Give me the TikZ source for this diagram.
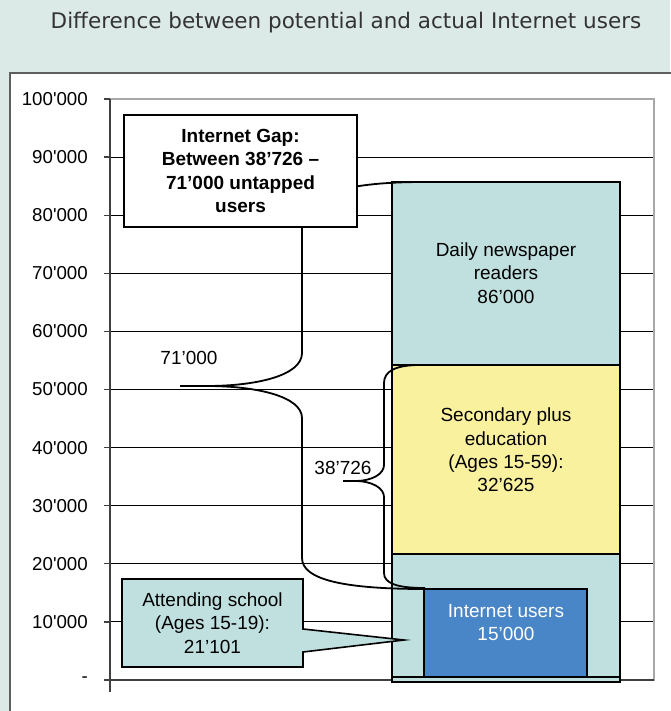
\documentclass[tikz,border=0pt]{standalone}
\usepackage{fontspec}
\setmainfont{Liberation Sans}[Ligatures=TeXOff]
\newfontfamily\titrefont{DejaVu Sans}
\usetikzlibrary{calc}
\definecolor{monFond}{RGB}{220,234,231}
\definecolor{monSarcelle}{RGB}{191,224,223}
\definecolor{monJaune}{RGB}{250,241,158}
\definecolor{monBleu}{RGB}{72,134,199}
\definecolor{monCadre}{RGB}{95,95,95}
\definecolor{monGris}{RGB}{168,168,168}
\definecolor{monTitre}{RGB}{51,51,51}
\tikzstyle{colonne} = [draw, line width=1.6pt, fill=monSarcelle]
\tikzstyle{colonne_2} = [draw, line width=1.6pt, fill=monJaune]
\tikzstyle{colonne_3} = [draw, line width=1.6pt, fill=monBleu]
\tikzstyle{texte} = [align=center, inner sep=0pt, font=\fontsize{19}{23.3}\selectfont]
\tikzstyle{texte_2} = [texte, text=white]
\tikzstyle{graduation} = [anchor=east, inner sep=0pt, font=\fontsize{18.7}{22}\selectfont]
\tikzstyle{accolade} = [line width=1.8pt, line join=round]
\tikzstyle{bulle} = [draw, line width=1.6pt, fill=monSarcelle]
\tikzstyle{bulle_2} = [draw, line width=1.6pt, fill=white, minimum width=233pt, minimum height=112pt]

\begin{document}
\begin{tikzpicture}[x=1pt, y=-1pt]
    \useasboundingbox (0,0) rectangle (670,711);
    \fill[monFond] (0,0) rectangle (670,711);
    \node[font=\titrefont\fontsize{21.5}{26}\selectfont, text=monTitre] (titre) at (346,23) {Difference between potential and actual Internet users};
    % panneau
    \fill[white] (10,73) rectangle (672,713);
    \draw[monCadre, line width=1.4pt] (10,713) -- (10,73) -- (672,73);
    % grille et axe
    \foreach \v in {1,...,9}
      \draw[line width=0.9pt] (110,{680-58.1*\v}) -- (654,{680-58.1*\v});
    \draw[monGris, line width=2.4pt] (110,99) -- (654,99) -- (654,681);
    \draw[line width=1.2pt, black!75] (104,680) -- (654,680);
    \draw[line width=1.2pt, black!75] (110,99) -- (110,692);
    \foreach \v/\lab in {0/-,1/10'000,2/20'000,3/30'000,4/40'000,5/50'000,6/60'000,7/70'000,8/80'000,9/90'000,10/100'000} {
      \draw[line width=1.2pt, black!75] (104,{680-58.1*\v}) -- (110,{680-58.1*\v});
      \node[graduation] (g\v) at (88,{680-58.1*\v}) {\lab};
    }
    % colonne
    \draw[colonne] (392,182) rectangle (620,682);
    \draw[colonne_2] (392,365) rectangle (620,554);
    \draw[colonne] (392,677) rectangle (620,682);
    \draw[colonne_3] (424,589) rectangle (587,677);
    \node[texte] (lecteurs) at (506,273) {Daily newspaper\\readers\\86’000};
    \node[texte] (secondaire) at (506,450) {Secondary plus\\education\\(Ages 15-59):\\32’625};
    \node[texte_2] (internautes) at (506,622.5) {Internet users\\15’000};
    % accolades
    \coordinate (haut71) at (423,182);
    \coordinate (pointe71) at (180,386);
    \coordinate (bas71) at (425,589);
    \draw[accolade] (haut71) .. controls (345,182) and (302,195) .. (302,222) -- (302,353) .. controls (302,376) and (255,386) .. (207,386) -- (pointe71);
    \draw[accolade] (pointe71) -- (207,386) .. controls (255,386) and (302,396) .. (302,418) -- (302,558) .. controls (302,580) and (345,589) .. (bas71);
    \coordinate (haut38) at (420,365);
    \coordinate (pointe38) at (343,481);
    \coordinate (bas38) at (425,588);
    \draw[accolade] (haut38) .. controls (396,365) and (384,371) .. (384,383) -- (384,465) .. controls (384,474) and (372,481) .. (355,481) -- (pointe38);
    \draw[accolade] (pointe38) -- (355,481) .. controls (372,481) and (384,488) .. (384,497) -- (384,573) .. controls (384,583) and (396,588) .. (bas38);
    \node[texte] (val71) at (189,358) {71’000};
    \node[texte] (val38) at (343,468) {38’726};
    % bulles
    \node[bulle_2, texte, font=\bfseries\fontsize{19}{23.3}\selectfont] (ecart) at (240.5,171) {Internet Gap:\\Between 38’726 –\\71’000 untapped\\users};
    \coordinate (cible) at (404,640);
    \filldraw[bulle] (122,579) -- (303,579) -- (303,629) -- (cible) -- (303,652) -- (303,667) -- (122,667) -- cycle;
    \node[texte] (ecole) at (212.5,623) {Attending school\\(Ages 15-19):\\21’101};
\end{tikzpicture}
\end{document}
